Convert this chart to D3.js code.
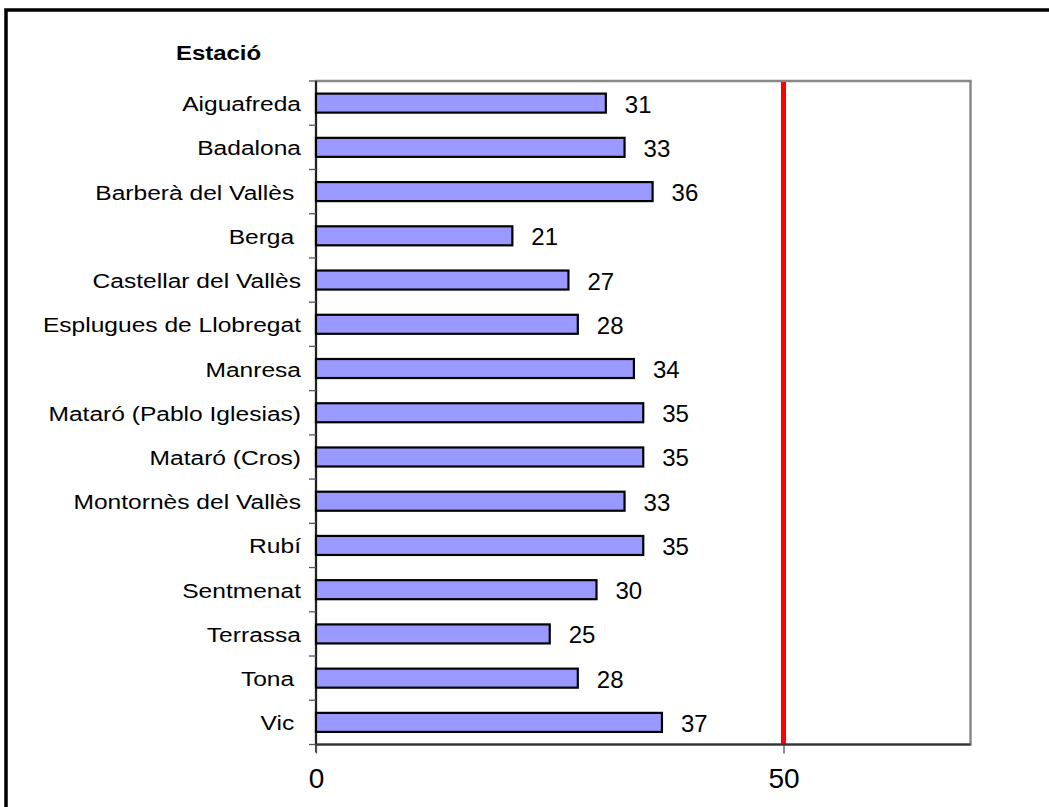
<!DOCTYPE html>
<html>
<head>
<meta charset="utf-8">
<script src="https://cdn.jsdelivr.net/npm/d3@7"></script>
<style>
    body { margin: 0; background: #fff; }
    svg { display: block; font-family: Arial, "Liberation Sans", sans-serif; }
    .catLabel { font-size: 21px; fill: #000; white-space: pre; }
    .valLabel { font-size: 24px; fill: #000; }
    .axisTitle { font-size: 21px; font-weight: bold; }
</style>
</head>
<body>
<script>
(function(){

    //chart data
    var stations = ["Aiguafreda", "Badalona", "Barberà del Vallès ", "Berga ", "Castellar del Vallès",
        "Esplugues de Llobregat", "Manresa", "Mataró (Pablo Iglesias)", "Mataró (Cros)",
        "Montornès del Vallès", "Rubí", "Sentmenat", "Terrassa", "Tona ", "Vic "];
    var values = [31, 33, 36, 21, 27, 28, 34, 35, 35, 33, 35, 30, 25, 28, 37];
    var xTicks = [0, 50];
    var limitValue = 50;

    //horizontal stretch of the label text in the original
    var stretch = 1.17;

    window.onload = drawChart();

    function drawChart(){
        var width = 1049, height = 807;

        //plot area
        var left = 316, right = 970.5, top = 81, bottom = 744.5;

        var svg = d3.select("body")
            .append("svg")
            .attr("width", width)
            .attr("height", height);

        //outer frame (runs off the right and bottom edges)
        svg.append("rect")
            .attr("x", 6)
            .attr("y", 10)
            .attr("width", 1100)
            .attr("height", 900)
            .attr("fill", "none")
            .attr("stroke", "#000")
            .attr("stroke-width", 3.5);

        var xScale = d3.scaleLinear()
            .domain([0, 70])
            .range([left, right]);

        var yScale = d3.scaleBand()
            .domain(stations)
            .range([top, bottom])
            .paddingInner(0.57)
            .paddingOuter(0.285);

        var band = (bottom - top) / stations.length;

        //plot border (gray)
        svg.append("rect")
            .attr("x", left)
            .attr("y", top)
            .attr("width", right - left)
            .attr("height", bottom - top)
            .attr("fill", "none")
            .attr("stroke", "#888")
            .attr("stroke-width", 2.5);

        //bars
        svg.selectAll(".bar")
            .data(values)
            .enter()
            .append("rect")
            .attr("class", "bar")
            .attr("x", xScale(0))
            .attr("y", function(d, i){ return yScale(stations[i]); })
            .attr("width", function(d){ return xScale(d) - xScale(0); })
            .attr("height", yScale.bandwidth())
            .attr("fill", "#9999FF")
            .attr("stroke", "#000")
            .attr("stroke-width", 2.2);

        //value labels
        svg.selectAll(".valLabel")
            .data(values)
            .enter()
            .append("text")
            .attr("class", "valLabel")
            .attr("x", function(d){ return xScale(d) + 19; })
            .attr("y", function(d, i){ return yScale(stations[i]) + yScale.bandwidth() / 2 + 9.5; })
            .text(function(d){ return d; });

        //red limit line
        svg.append("line")
            .attr("x1", xScale(limitValue))
            .attr("x2", xScale(limitValue))
            .attr("y1", top + 1)
            .attr("y2", bottom)
            .attr("stroke", "#FF0000")
            .attr("stroke-width", 5);

        //y axis line and ticks at category boundaries
        svg.append("line")
            .attr("x1", left).attr("x2", left)
            .attr("y1", top).attr("y2", bottom + 8)
            .attr("stroke", "#000")
            .attr("stroke-width", 1.5);

        var yTicks = d3.range(stations.length + 1);
        svg.selectAll(".yTick")
            .data(yTicks)
            .enter()
            .append("line")
            .attr("class", "yTick")
            .attr("x1", left - 7).attr("x2", left)
            .attr("y1", function(d){ return top + d * band; })
            .attr("y2", function(d){ return top + d * band; })
            .attr("stroke", "#555")
            .attr("stroke-width", 1.3);

        //category labels
        svg.selectAll(".catLabel")
            .data(stations)
            .enter()
            .append("text")
            .attr("class", "catLabel")
            .attr("transform", function(d){
                return "translate(301," + (yScale(d) + yScale.bandwidth() / 2 + 8) + ") scale(" + stretch + ",1)";
            })
            .attr("text-anchor", "end")
            .text(function(d){ return d; });

        //x axis
        var xAxis = d3.axisBottom(xScale)
            .tickValues(xTicks)
            .tickSize(9)
            .tickFormat(d3.format("d"));

        var axis = svg.append("g")
            .attr("transform", "translate(0," + bottom + ")")
            .call(xAxis);
        axis.select(".domain").remove();
        axis.selectAll("line").attr("stroke", "#555").attr("stroke-width", 1.3);
        axis.selectAll("text")
            .attr("dy", null)
            .attr("y", 43.5)
            .style("font-size", "28px")
            .style("font-family", "Arial, 'Liberation Sans', sans-serif")
            .attr("fill", "#000");

        //bottom axis line
        svg.append("line")
            .attr("x1", left).attr("x2", right)
            .attr("y1", bottom).attr("y2", bottom)
            .attr("stroke", "#333")
            .attr("stroke-width", 2);

        //axis title
        svg.append("text")
            .attr("class", "axisTitle")
            .attr("transform", "translate(176,60) scale(" + (stretch - 0.03) + ",1)")
            .text("Estació");
    };
})();
</script>
</body>
</html>
